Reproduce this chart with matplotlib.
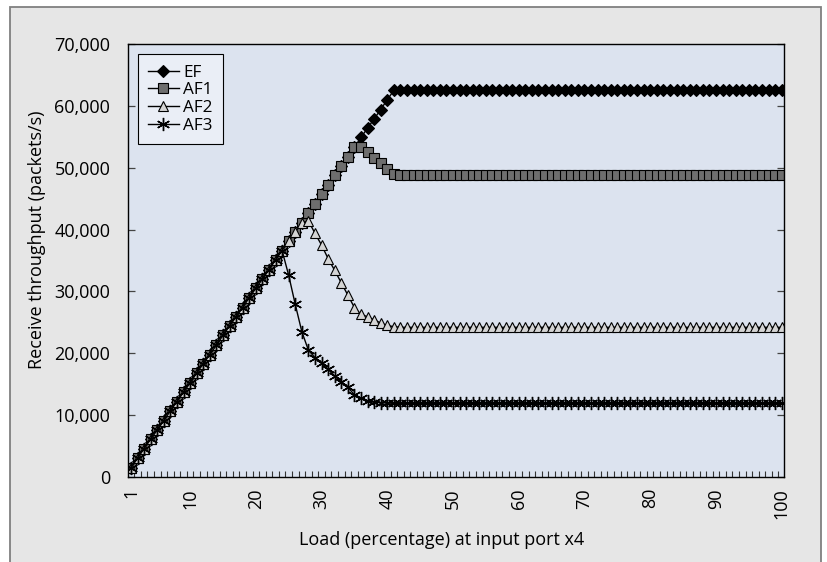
import matplotlib
matplotlib.use("Agg")
import matplotlib.pyplot as plt
from matplotlib.patches import Rectangle
from matplotlib.ticker import FixedLocator, FuncFormatter

loads = list(range(1, 101))

ef = [1500, 3000, 4600, 6100, 7600, 9100, 10700, 12200, 13700, 15200,
      16800, 18300, 19800, 21300, 22900, 24400, 25900, 27400, 29000, 30500,
      32000, 33500, 35100, 36600, 38100, 39600, 41100, 42700, 44200, 45700,
      47200, 48800, 50300, 51800, 53300, 54900, 56400, 57900, 59400, 61000,
      62500, 62500, 62500, 62500, 62500, 62500, 62500, 62500, 62500, 62500,
      62500, 62500, 62500, 62500, 62500, 62500, 62500, 62500, 62500, 62500,
      62500, 62500, 62500, 62500, 62500, 62500, 62500, 62500, 62500, 62500,
      62500, 62500, 62500, 62500, 62500, 62500, 62500, 62500, 62500, 62500,
      62500, 62500, 62500, 62500, 62500, 62500, 62500, 62500, 62500, 62500,
      62500, 62500, 62500, 62500, 62500, 62500, 62500, 62500, 62500, 62500]

af1 = [1500, 3000, 4600, 6100, 7600, 9100, 10700, 12200, 13700, 15200,
       16800, 18300, 19800, 21300, 22900, 24400, 25900, 27400, 29000, 30500,
       32000, 33500, 35100, 36600, 38100, 39600, 41100, 42700, 44200, 45700,
       47200, 48800, 50300, 51800, 53300, 53300, 52600, 51500, 50800, 49800,
       49000, 48800, 48800, 48800, 48800, 48800, 48800, 48800, 48800, 48800,
       48800, 48800, 48800, 48800, 48800, 48800, 48800, 48800, 48800, 48800,
       48800, 48800, 48800, 48800, 48800, 48800, 48800, 48800, 48800, 48800,
       48800, 48800, 48800, 48800, 48800, 48800, 48800, 48800, 48800, 48800,
       48800, 48800, 48800, 48800, 48800, 48800, 48800, 48800, 48800, 48800,
       48800, 48800, 48800, 48800, 48800, 48800, 48800, 48800, 48800, 48800]

af2 = [1500, 3000, 4600, 6100, 7600, 9100, 10700, 12200, 13700, 15200,
       16800, 18300, 19800, 21300, 22900, 24400, 25900, 27400, 29000, 30500,
       32000, 33500, 35100, 36600, 38100, 39600, 41100, 41400, 39400, 37500,
       35300, 33400, 31400, 29400, 27400, 26300, 25900, 25400, 24900, 24500,
       24300, 24200, 24200, 24200, 24200, 24200, 24200, 24200, 24200, 24200,
       24200, 24200, 24200, 24200, 24200, 24200, 24200, 24200, 24200, 24200,
       24200, 24200, 24200, 24200, 24200, 24200, 24200, 24200, 24200, 24200,
       24200, 24200, 24200, 24200, 24200, 24200, 24200, 24200, 24200, 24200,
       24200, 24200, 24200, 24200, 24200, 24200, 24200, 24200, 24200, 24200,
       24200, 24200, 24200, 24200, 24200, 24200, 24200, 24200, 24200, 24200]

af3 = [1500, 3000, 4600, 6100, 7600, 9100, 10700, 12200, 13700, 15200,
       16800, 18300, 19800, 21300, 22900, 24400, 25900, 27400, 29000, 30500,
       32000, 33500, 35100, 36600, 32600, 27900, 23500, 20500, 19300, 18400,
       17400, 16300, 15400, 14500, 13300, 12700, 12300, 12100, 12000, 11950,
       11900, 11900, 11900, 11900, 11900, 11900, 11900, 11900, 11900, 11900,
       11900, 11900, 11900, 11900, 11900, 11900, 11900, 11900, 11900, 11900,
       11900, 11900, 11900, 11900, 11900, 11900, 11900, 11900, 11900, 11900,
       11900, 11900, 11900, 11900, 11900, 11900, 11900, 11900, 11900, 11900,
       11900, 11900, 11900, 11900, 11900, 11900, 11900, 11900, 11900, 11900,
       11900, 11900, 11900, 11900, 11900, 11900, 11900, 11900, 11900, 11900]

series_names = ["EF", "AF1", "AF2", "AF3"]
x_tick_values = [1, 10, 20, 30, 40, 50, 60, 70, 80, 90, 100]
x_tick_labels = ["1", "10", "20", "30", "40", "50", "60", "70", "80", "90", "100"]
y_ticks = [0, 10000, 20000, 30000, 40000, 50000, 60000, 70000]

plt.rcParams['font.family'] = ['Open Sans', 'DejaVu Sans']

W, H = 828, 562
fig = plt.figure(figsize=(W / 100, H / 100), dpi=100)
fig.patch.set_facecolor("white")
fig.patches.append(Rectangle((10 / W, -0.05), (821 - 10) / W, 1.05 - 7 / H,
                             transform=fig.transFigure, facecolor="#e6e6e6",
                             edgecolor="#808080", linewidth=1.3, zorder=-10))

L, R, T, B = 128.3, 784.3, 44, 477
ax = fig.add_axes([L / W, 1 - B / H, (R - L) / W, (B - T) / H])
ax.set_facecolor("#dce3ef")

ax.plot(loads, ef, color="black", lw=1.0, marker="D", ms=6.4,
        mfc="black", mec="black", mew=0.8, label=series_names[0])
ax.plot(loads, af1, color="black", lw=1.0, marker="s", ms=7.3,
        mfc="#6e6e6e", mec="black", mew=0.8, label=series_names[1])
ax.plot(loads, af2, color="black", lw=1.0, marker="^", ms=7.8,
        mfc="#d4d4d4", mec="black", mew=0.8, label=series_names[2])
ax.plot(loads, af3, color="black", lw=1.0, marker=(6, 2, 0), ms=9.5,
        mfc="black", mec="black", mew=1.0, label=series_names[3])

ax.set_xlim(0.6, 100.4)
ax.set_ylim(0, 70000)

ax.xaxis.set_major_locator(FixedLocator(x_tick_values))
ax.set_xticklabels(x_tick_labels, rotation=90, fontsize=13)
ax.xaxis.set_minor_locator(FixedLocator([k + 0.5 for k in range(0, 100)]))
ax.tick_params(axis="x", which="major", length=0, pad=8)
ax.tick_params(axis="x", which="minor", direction="in", length=4.5,
               width=0.8, color="#333333", bottom=True, top=False)

ax.set_yticks(y_ticks)
ax.yaxis.set_major_formatter(FuncFormatter(lambda v, p: f"{int(v):,}"))
ax.tick_params(axis="y", which="major", direction="in", length=5,
               width=0.9, color="#444444", left=True, right=True,
               labelsize=13, pad=13)

for s in ax.spines.values():
    s.set_linewidth(1.0)
    s.set_color("black")

ax.set_xlabel("Load (percentage) at input port x4", fontsize=13)
ax.set_ylabel("Receive throughput (packets/s)", fontsize=13)
ax.xaxis.set_label_coords(0.478, -0.1455)
ax.yaxis.set_label_coords(-0.139, 0.547)
ax.xaxis.label.set_va("center")
ax.yaxis.label.set_va("center")

leg = ax.legend(loc="upper left", bbox_to_anchor=(0.0143, 0.976),
                borderaxespad=0, fontsize=12.3, frameon=True, fancybox=False,
                edgecolor="black", facecolor="#eaeef6", framealpha=1,
                handlelength=1.8, handletextpad=0.25, labelspacing=0.1,
                borderpad=0.6)
leg.get_frame().set_linewidth(0.8)

fig.savefig("out.png", dpi=100)
